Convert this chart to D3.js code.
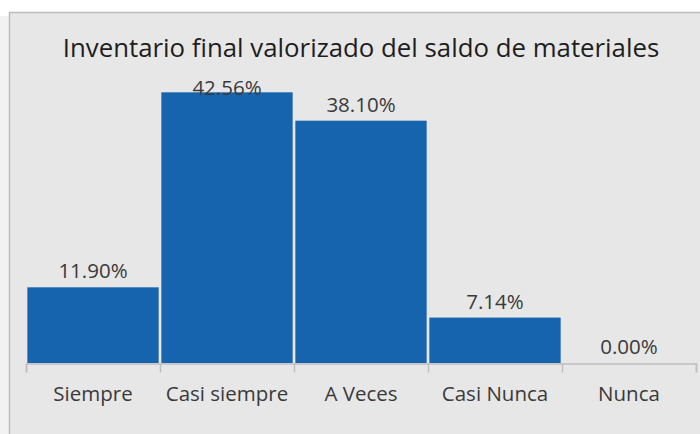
<!DOCTYPE html>
<html>
<head>
<meta charset="utf-8">
<script src="https://cdn.jsdelivr.net/npm/d3@7"></script>
<style>
  html, body { margin: 0; padding: 0; background: #ffffff; }
  svg { display: block; }
</style>
</head>
<body>
<script>
const categories = ["Siempre", "Casi siempre", "A Veces", "Casi Nunca", "Nunca"];
const values = [11.90, 42.56, 38.10, 7.14, 0.00];
const title = "Inventario final valorizado del saldo de materiales";

const W = 700, H = 434;
const svg = d3.select("body").append("svg").attr("width", W).attr("height", H);

svg.append("rect").attr("x", 0).attr("y", 0).attr("width", W).attr("height", H).attr("fill", "#ffffff");
svg.append("rect").attr("x", 0).attr("y", 16).attr("width", 10).attr("height", H - 16).attr("fill", "#f2f2f2");
svg.append("rect").attr("x", 9.5).attr("y", 12.5).attr("width", W + 20).attr("height", H + 20)
  .attr("fill", "#e7e7e7").attr("stroke", "#bdbdbd").attr("stroke-width", 1.5);

const plotTop = 80, plotBottom = 363, plotLeft = 26, plotRight = 696;

const x = d3.scaleBand().domain(categories).range([plotLeft, plotRight]).paddingInner(0.02).paddingOuter(0.01);
const y = d3.scaleLinear().domain([0, 45]).range([plotBottom, plotBottom - 45 * 6.36]);

svg.append("text")
  .attr("x", (plotLeft + plotRight) / 2).attr("y", 57)
  .attr("text-anchor", "middle")
  .attr("font-family", "'Open Sans', sans-serif")
  .attr("font-size", 25.8)
  .attr("fill", "#1e1e1e")
  .text(title);

svg.selectAll("rect.bar").data(values).join("rect")
  .attr("class", "bar")
  .attr("x", (d, i) => x(categories[i]))
  .attr("width", x.bandwidth())
  .attr("y", d => y(d))
  .attr("height", d => y(0) - y(d))
  .attr("fill", "#1764ae");

const xAxis = d3.axisBottom(d3.scaleLinear().domain([0, categories.length]).range([plotLeft, plotRight]))
  .ticks(categories.length).tickFormat("").tickSize(9).tickSizeOuter(9);
const ax = svg.append("g").attr("transform", `translate(0,${plotBottom + 0.5})`).call(xAxis);
ax.selectAll("path, line").attr("stroke", "#bfbfbf").attr("stroke-width", 1.5);

svg.selectAll("text.cat").data(categories).join("text")
  .attr("class", "cat")
  .attr("x", d => x(d) + x.bandwidth() / 2)
  .attr("y", 401)
  .attr("text-anchor", "middle")
  .attr("font-family", "'Open Sans', sans-serif")
  .attr("font-size", 20.5)
  .attr("fill", "#3a3a3a")
  .text(d => d);

svg.selectAll("text.val").data(values).join("text")
  .attr("class", "val")
  .attr("x", (d, i) => x(categories[i]) + x.bandwidth() / 2)
  .attr("y", d => Math.max(y(d) - 9, plotTop + 15))
  .attr("text-anchor", "middle")
  .attr("font-family", "'Open Sans', sans-serif")
  .attr("font-size", 20.5)
  .attr("fill", "#3a3a3a")
  .text(d => d.toFixed(2) + "%");
</script>
</body>
</html>
